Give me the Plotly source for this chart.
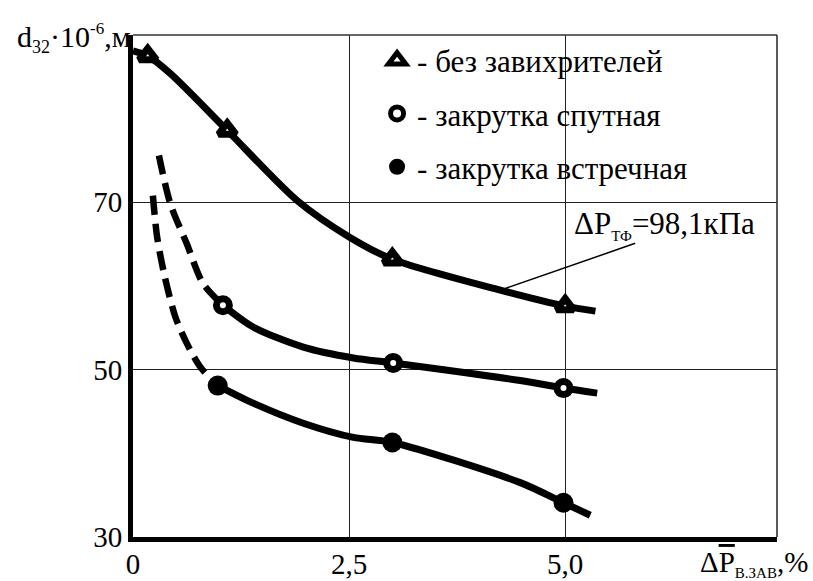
import plotly.graph_objects as go

# ---- data ----
# без завихрителей (triangles)
tri_x = [0.17, 1.09, 3.0, 5.0]
tri_y = [87.5, 78.6, 63.2, 57.6]
tri_curve_x = [0.0, 0.17, 0.43, 1.09, 1.9, 2.51, 3.0, 4.25, 5.0, 5.35]
tri_curve_y = [88.1, 87.5, 85.4, 78.6, 70.2, 65.8, 63.2, 59.5, 57.6, 57.0]

# закрутка спутная (open circles)
co_x = [1.04, 3.01, 4.98]
co_y = [57.7, 50.8, 47.8]
co_dash_x = [0.30, 0.43, 0.62, 0.81, 1.04]
co_dash_y = [75.6, 69.9, 65.1, 60.3, 57.7]
co_curve_x = [1.04, 1.39, 1.97, 2.55, 3.01, 4.48, 4.98, 5.37]
co_curve_y = [57.7, 55.1, 52.7, 51.4, 50.8, 48.7, 47.8, 47.2]

# закрутка встречная (filled circles)
ct_x = [0.98, 3.0, 4.98]
ct_y = [48.1, 41.3, 34.1]
ct_dash_x = [0.23, 0.28, 0.37, 0.49, 0.62, 0.78, 0.98]
ct_dash_y = [70.8, 65.8, 61.0, 56.3, 53.2, 50.3, 48.1]
ct_curve_x = [0.98, 1.39, 1.97, 2.55, 3.0, 4.48, 4.98, 5.29]
ct_curve_y = [48.1, 46.0, 43.6, 41.9, 41.3, 36.5, 34.1, 32.6]

x_ticks = [0, 2.5, 5.0]
x_ticktext = ["0", "2,5", "5,0"]
y_ticks = [30, 50, 70]
y_ticktext = ["30", "50", "70"]

leader_x = [4.25, 5.81]
leader_y = [59.5, 65.1]

legend_names = ["- без завихрителей", "- закрутка спутная", "- закрутка встречная"]

FONT = "Liberation Serif"
LW = 7

fig = go.Figure()

# curves
fig.add_trace(go.Scatter(x=tri_curve_x, y=tri_curve_y, mode="lines",
                         line=dict(color="black", width=LW, shape="spline", smoothing=0.8),
                         showlegend=False, hoverinfo="skip"))
fig.add_trace(go.Scatter(x=co_dash_x, y=co_dash_y, mode="lines",
                         line=dict(color="black", width=6.5, shape="spline", smoothing=0.8, dash="19px,9px"),
                         showlegend=False, hoverinfo="skip"))
fig.add_trace(go.Scatter(x=co_curve_x, y=co_curve_y, mode="lines",
                         line=dict(color="black", width=LW, shape="spline", smoothing=0.8),
                         showlegend=False, hoverinfo="skip"))
fig.add_trace(go.Scatter(x=ct_dash_x, y=ct_dash_y, mode="lines",
                         line=dict(color="black", width=6.5, shape="spline", smoothing=0.8, dash="19px,9px"),
                         showlegend=False, hoverinfo="skip"))
fig.add_trace(go.Scatter(x=ct_curve_x, y=ct_curve_y, mode="lines",
                         line=dict(color="black", width=LW, shape="spline", smoothing=0.8),
                         showlegend=False, hoverinfo="skip"))

# leader line for annotation
fig.add_trace(go.Scatter(x=leader_x, y=leader_y, mode="lines",
                         line=dict(color="black", width=1.5),
                         showlegend=False, hoverinfo="skip"))

# markers (also legend entries)
fig.add_trace(go.Scatter(x=tri_x, y=tri_y, mode="markers", name=legend_names[0],
                         legendgroup="a",
                         marker=dict(symbol="triangle-up", size=15, color="white",
                                     line=dict(color="black", width=7))))
fig.add_trace(go.Scatter(x=co_x, y=co_y, mode="markers", name=legend_names[1],
                         legendgroup="b",
                         marker=dict(symbol="circle", size=13, color="white",
                                     line=dict(color="black", width=7))))
fig.add_trace(go.Scatter(x=ct_x, y=ct_y, mode="markers", name=legend_names[2],
                         legendgroup="c",
                         marker=dict(symbol="circle", size=20, color="black",
                                     line=dict(color="black", width=0))))

fig.update_layout(
    width=813, height=581,
    margin=dict(l=133, r=36, t=35, b=44),
    paper_bgcolor="white", plot_bgcolor="white",
    font=dict(family=FONT, color="black", size=28),
    legend=dict(x=0.379, y=1.003, xanchor="left", yanchor="top",
                bgcolor="rgba(0,0,0,0)", borderwidth=0,
                font=dict(family=FONT, size=31, color="black"),
                tracegroupgap=10, itemclick=False),
    xaxis=dict(range=[0, 7.45], tickvals=x_ticks, ticktext=x_ticktext,
               showgrid=True, gridcolor="#222", gridwidth=1.3,
               showline=True, linecolor="black", linewidth=5,
               zeroline=False, ticks="", ticklabelstandoff=-3, automargin=False,
               tickfont=dict(family=FONT, size=29, color="black")),
    yaxis=dict(range=[30, 90], tickvals=y_ticks, ticktext=y_ticktext,
               showgrid=True, gridcolor="#222", gridwidth=1.3,
               showline=True, linecolor="black", linewidth=5,
               zeroline=False, ticks="", ticklabelstandoff=0, automargin=False,
               tickfont=dict(family=FONT, size=29, color="black")),
    shapes=[
        dict(type="line", xref="paper", yref="paper", x0=0, x1=1, y0=1, y1=1,
             line=dict(color="#333", width=1.6)),
        dict(type="line", xref="paper", yref="paper", x0=1, x1=1, y0=0, y1=1,
             line=dict(color="#333", width=1.6)),
    ],
    annotations=[
        dict(text="ΔP<sub><span style='font-size:15px'>ТФ</span></sub>=98,1кПа",
             x=5.08, y=67.3, xref="x", yref="y", xanchor="left", yanchor="middle",
             showarrow=False, font=dict(family=FONT, size=31, color="black")),
        dict(text="d<sub><span style='font-size:18px'>32</span></sub>·10<sup><span style='font-size:17px'>-6</span></sup>,м",
             x=0, y=1, xref="paper", yref="paper", xanchor="right", yanchor="middle",
             xshift=0, yshift=-3, showarrow=False,
             font=dict(family=FONT, size=30, color="black")),
        dict(text="Δ<span style='text-decoration:overline'>P</span><sub><span style='font-size:15px'>В.ЗАВ</span></sub>,%",
             x=0.877, y=-0.052, xref="paper", yref="paper", xanchor="left", yanchor="middle",
             showarrow=False, font=dict(family=FONT, size=29, color="black")),
    ],
)

fig.write_html("out.html")
